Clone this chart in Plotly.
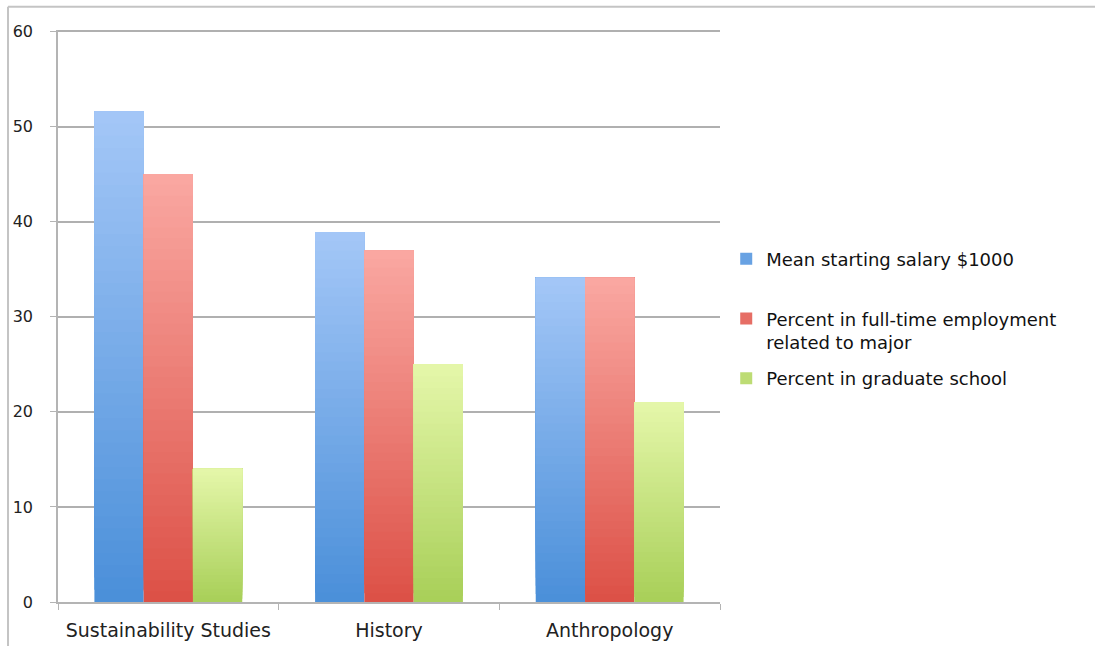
import plotly.graph_objects as go

# Survey outcomes by major
majors = ["Sustainability Studies", "History", "Anthropology"]
series_names = [
    "Mean starting salary $1000",
    "Percent in full-time employment<br>related to major",
    "Percent in graduate school",
]
salary = [51.6, 38.9, 34.1]
employment = [45.0, 37.0, 34.1]
grad_school = [14.0, 25.0, 21.0]
series_values = [salary, employment, grad_school]

# colour at the bottom and top of each bar (vertical gradient)
bottom_colors = [(74, 143, 217), (220, 80, 70), (168, 207, 88)]
top_colors = [(164, 199, 247), (250, 168, 162), (229, 247, 170)]

N_SLICES = 40


def mix(c1, c2, t):
    return "rgb({},{},{})".format(*[round(a + (b - a) * t) for a, b in zip(c1, c2)])


fig = go.Figure()
for s, (name, vals) in enumerate(zip(series_names, series_values)):
    for k in range(N_SLICES):
        t = (k + 0.5) / N_SLICES
        # legend entries are 2 lines tall so the entries are evenly spaced
        label = name if "<br>" in name else name + "<br> "
        # each layer runs from its own base up to the full value, so the
        # next layer overlaps it and no gaps show between layers
        fig.add_trace(go.Bar(
            x=majors,
            y=[v * (N_SLICES - k) / N_SLICES for v in vals],
            base=[v * k / N_SLICES for v in vals],
            name=label,
            offsetgroup=str(s),
            legendgroup=str(s),
            showlegend=(k == N_SLICES // 3),
            marker=dict(color=mix(bottom_colors[s], top_colors[s], t), line=dict(width=0)),
            hoverinfo="skip",
        ))

fig.update_layout(
    width=1095,
    height=646,
    margin=dict(l=58, r=375, t=30, b=44),
    paper_bgcolor="white",
    plot_bgcolor="white",
    barmode="group",
    bargap=0.33,
    bargroupgap=0,
    font=dict(family="DejaVu Sans", color="#222222"),
    legend=dict(
        x=1.0094, xanchor="left",
        y=0.632, yanchor="top",
        valign="top",
        traceorder="grouped",
        tracegroupgap=10,
        itemwidth=30,
        font=dict(size=18, color="#111111"),
    ),
    xaxis=dict(
        type="category",
        automargin=False,
        showline=True, linecolor="#b4b4b4", linewidth=1.5,
        ticks="outside", tickson="boundaries", ticklen=6, tickcolor="#b4b4b4",
        tickfont=dict(size=19, color="#222222"),
        ticklabelstandoff=10,
        showgrid=False,
    ),
    yaxis=dict(
        automargin=False,
        range=[0, 60.15],
        tickvals=[0, 10, 20, 30, 40, 50, 60],
        showline=True, linecolor="#b4b4b4", linewidth=1.5,
        ticks="outside", ticklen=6, tickcolor="#b4b4b4",
        tickfont=dict(size=16, color="#222222"),
        ticklabelstandoff=14,
        showgrid=True, gridcolor="#b0b0b0", gridwidth=1.5,
        zeroline=False,
    ),
    shapes=[
        # outer frame of the chart area
        dict(type="line", xref="paper", yref="paper",
             x0=-0.0755, x1=1.6, y0=1.0405, y1=1.0405,
             line=dict(color="#c4c4c4", width=2)),
        dict(type="line", xref="paper", yref="paper",
             x0=-0.0755, x1=-0.0755, y0=-0.1, y1=1.0405,
             line=dict(color="#c4c4c4", width=2)),
    ],
)

fig.write_html("out.html")
